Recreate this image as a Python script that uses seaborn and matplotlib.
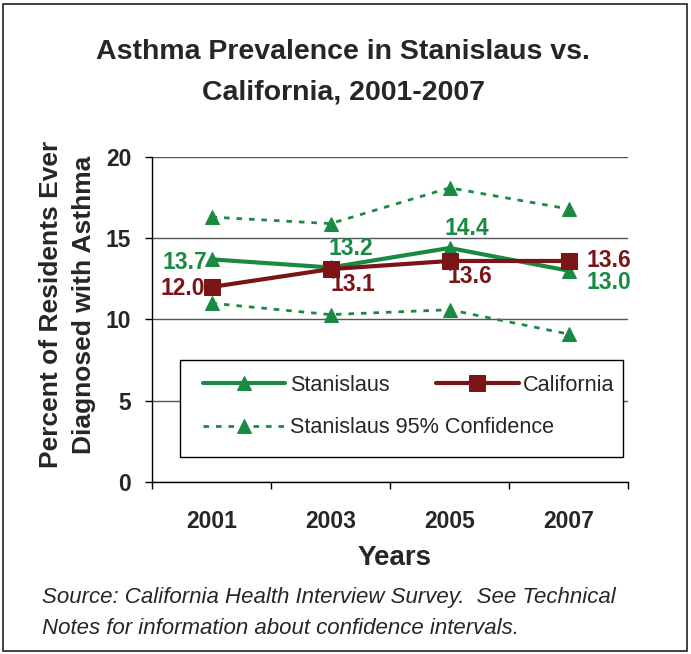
import matplotlib
matplotlib.use("Agg")
import matplotlib.pyplot as plt
import seaborn as sns
import numpy as np
import pandas as pd
from matplotlib.patches import Rectangle

# Percent of residents ever diagnosed with asthma
years = ["2001", "2003", "2005", "2007"]
stanislaus = [13.7, 13.2, 14.4, 13.0]
california = [12.0, 13.1, 13.6, 13.6]
ci_upper = [16.3, 15.9, 18.1, 16.8]
ci_lower = [11.0, 10.3, 10.6, 9.1]
y_ticks = [0, 5, 10, 15, 20]

GREEN = "#1a8a43"
RED = "#7b1417"

sns.set_theme(style="white")
plt.rcParams["font.family"] = ["Liberation Sans", "DejaVu Sans"]

pos = np.arange(len(years))
df = pd.DataFrame({
    "pos": pos,
    "year": years,
    "Stanislaus": stanislaus,
    "California": california,
    "upper": ci_upper,
    "lower": ci_lower,
})

fig = plt.figure(figsize=(6.91, 6.54), dpi=100)
ax = fig.add_axes([0.22, 0.263, 0.689, 0.497])

dot_style = dict(color=GREEN, lw=2.0, linestyle=(0, (2, 2.5)), marker="^",
                 markersize=9.5, markeredgecolor=GREEN, markerfacecolor=GREEN)

sns.lineplot(data=df, x="pos", y="upper", ax=ax, legend=False, zorder=2, **dot_style)
ci_line = ax.lines[-1]
sns.lineplot(data=df, x="pos", y="lower", ax=ax, legend=False, zorder=2, **dot_style)

sns.lineplot(data=df, x="pos", y="Stanislaus", ax=ax, legend=False, zorder=3,
             color=GREEN, lw=3, marker="^", markersize=10,
             markeredgecolor=GREEN, markerfacecolor=GREEN)
st_line = ax.lines[-1]
sns.lineplot(data=df, x="pos", y="California", ax=ax, legend=False, zorder=4,
             color=RED, lw=3, marker="s", markersize=11.5,
             markeredgecolor=RED, markerfacecolor=RED)
ca_line = ax.lines[-1]

# value labels (offsets in pixels from each point)
st_offsets = [(-4, -3, "right"), (20, 19, "center"), (17, 19, "center"), (40, -12, "center")]
ca_offsets = [(-7, -2, "right"), (22, -15, "center"), (20, -16, "center"), (40, 0, "center")]
for i, v in enumerate(stanislaus):
    dx, dy, ha = st_offsets[i]
    ax.annotate(f"{v:.1f}", (pos[i], v), xytext=(dx, dy), textcoords="offset pixels",
                ha=ha, va="center", color=GREEN, fontsize=16.5, fontweight="bold", zorder=6)
for i, v in enumerate(california):
    dx, dy, ha = ca_offsets[i]
    ax.annotate(f"{v:.1f}", (pos[i], v), xytext=(dx, dy), textcoords="offset pixels",
                ha=ha, va="center", color=RED, fontsize=16.5, fontweight="bold", zorder=6)

# axes styling
ax.set_xlim(-0.5, len(years) - 0.5)
ax.set_ylim(0, 20)
ax.set_yticks(y_ticks)
ax.set_yticklabels([str(t) for t in y_ticks], fontsize=16.5, fontweight="bold")
ax.set_xticks(pos)
ax.set_xticklabels(years, fontsize=16.5, fontweight="bold")
ax.set_xticks(np.arange(len(years) + 1) - 0.5, minor=True)
ax.tick_params(axis="x", which="major", length=0, pad=20, bottom=True)
ax.tick_params(axis="x", which="minor", length=5, width=1, color="black", bottom=True, direction="out")
ax.tick_params(axis="y", which="major", length=5, width=1, color="black", left=True, pad=10, direction="out")
ax.yaxis.grid(True, color="#555555", lw=1)
ax.xaxis.grid(False)
ax.set_axisbelow(True)
for s in ["top", "right"]:
    ax.spines[s].set_visible(False)
for s in ["left", "bottom"]:
    ax.spines[s].set_color("black")
    ax.spines[s].set_linewidth(1)
ax.set_facecolor("white")

ax.set_xlabel("Years", fontsize=20, fontweight="bold")
ax.xaxis.set_label_coords(0.51, -0.195)
ax.xaxis.label.set_va("top")
ax.set_ylabel("Percent of Residents Ever\nDiagnosed with Asthma", fontsize=19,
              fontweight="bold", linespacing=1.45)
ax.yaxis.set_label_coords(-0.118, 0.545)

# legend box
ax.add_patch(Rectangle((0.0588, 0.0769), 0.9307, 0.2985, transform=ax.transAxes,
                       facecolor="white", edgecolor="black", lw=1, zorder=5))
leg1 = ax.legend([st_line, ci_line], ["Stanislaus", "Stanislaus 95% Confidence"],
                 loc="upper left", bbox_to_anchor=(0.107, 0.33), frameon=False,
                 borderpad=0, borderaxespad=0, handlelength=3.8, handletextpad=0.2,
                 labelspacing=1.0, fontsize=15.6)
leg1.set_zorder(7)
ax.add_artist(leg1)
leg2 = ax.legend([ca_line], ["California"], loc="upper left",
                 bbox_to_anchor=(0.597, 0.33), frameon=False, borderpad=0,
                 borderaxespad=0, handlelength=3.8, handletextpad=0.2, fontsize=15.6)
leg2.set_zorder(7)

# title and source note
fig.text(0.497, 1 - 72 / 654, "Asthma Prevalence in Stanislaus vs.\nCalifornia, 2001-2007",
         ha="center", va="center", fontsize=20.5, fontweight="bold", linespacing=1.72)
fig.text(0.061, 1 - 613 / 654,
         "Source: California Health Interview Survey.  See Technical\n"
         "Notes for information about confidence intervals.",
         ha="left", va="center", fontsize=16, fontstyle="italic", linespacing=1.6)

# outer frame
fig.patches.append(Rectangle((0.004, 0.005), 0.99, 0.989, transform=fig.transFigure,
                             fill=False, edgecolor="#222222", lw=1.2))

fig.savefig("out.png", dpi=100, facecolor="white")
